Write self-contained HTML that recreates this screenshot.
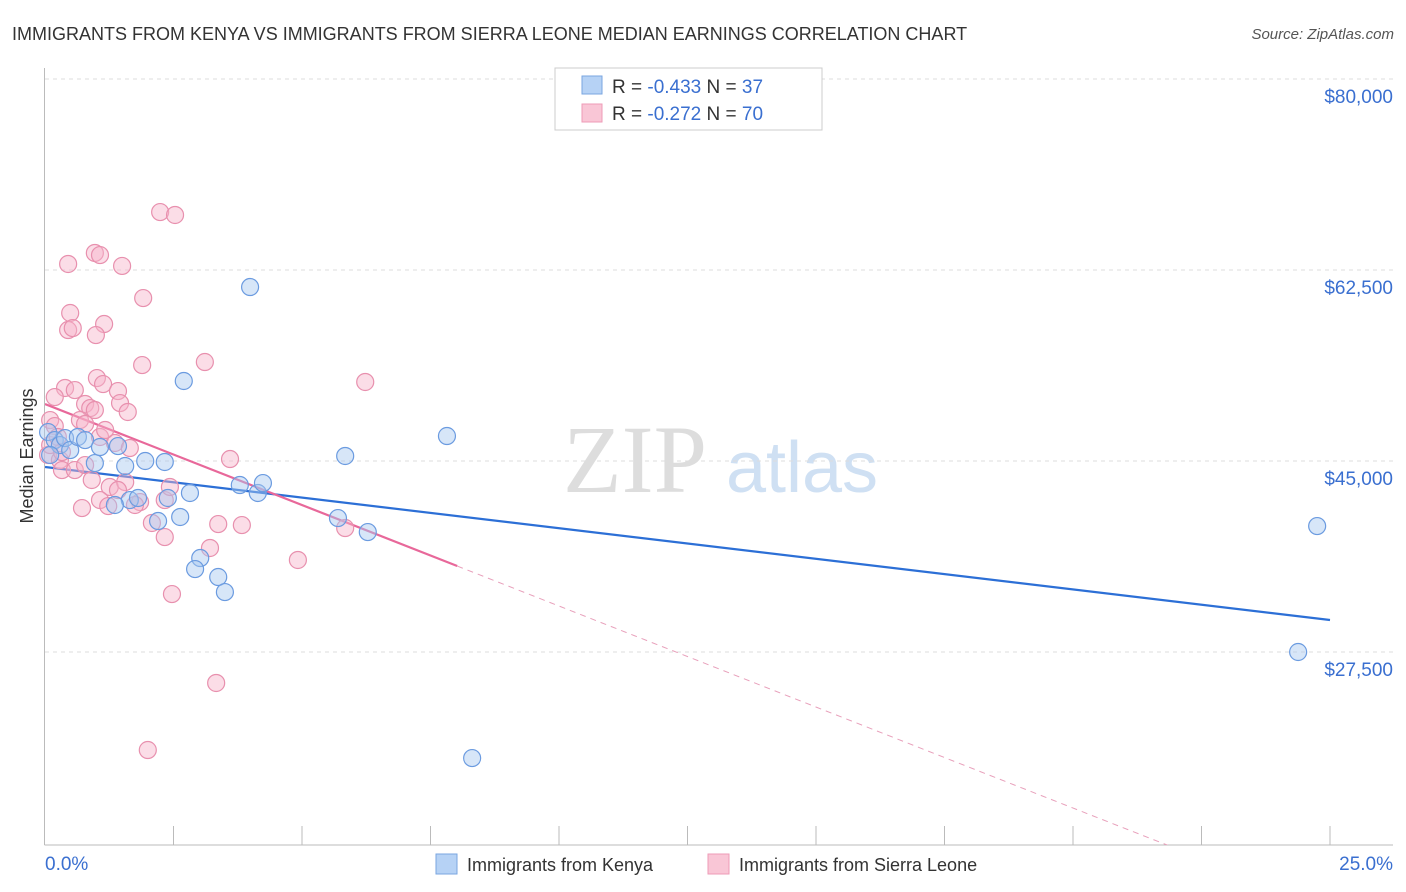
<!DOCTYPE html>
<html><head><meta charset="utf-8"><style>
body{margin:0;background:#fff;font-family:"Liberation Sans",sans-serif}
svg{display:block}
</style></head><body>
<svg id="chart" width="1406" height="892" xmlns="http://www.w3.org/2000/svg">
<text x="12" y="40" font-size="18" fill="#333">IMMIGRANTS FROM KENYA VS IMMIGRANTS FROM SIERRA LEONE MEDIAN EARNINGS CORRELATION CHART</text>
<text x="1394" y="39" font-size="15" fill="#555" text-anchor="end" font-style="italic">Source: ZipAtlas.com</text>
<text x="33" y="456" font-size="18" fill="#333" text-anchor="middle" transform="rotate(-90 33 456)">Median Earnings</text>
<g>
<text x="635" y="492" font-size="96" font-family="Liberation Serif,serif" fill="#ddd" text-anchor="middle">ZIP</text>
<text x="802" y="492" font-size="72" fill="#cfe0f3" text-anchor="middle">atlas</text>
</g>
<g id="grid"></g><g id="axes"></g>
<defs><clipPath id="plotclip"><rect x="45" y="60" width="1348" height="785"/></clipPath></defs>
<g id="trends" clip-path="url(#plotclip)"></g>
<g id="points"></g>
<g>
<rect x="555" y="68" width="267" height="62" fill="#fff" stroke="#ccc"/>
<rect x="582" y="76" width="20" height="18" fill="#b6d2f5" stroke="#7aa6e0"/>
<rect x="582" y="104" width="20" height="18" fill="#f9c6d6" stroke="#ee9bb7"/>
<text x="612" y="93" font-size="19" fill="#333">R = <tspan fill="#3a6fd0">-0.433</tspan>   N = <tspan fill="#3a6fd0">37</tspan></text>
<text x="612" y="120" font-size="19" fill="#333">R = <tspan fill="#3a6fd0">-0.272</tspan>   N = <tspan fill="#3a6fd0">70</tspan></text>
</g>
<g>
<rect x="436" y="854" width="21" height="20" fill="#b6d2f5" stroke="#7aa6e0"/>
<text x="467" y="871" font-size="18" fill="#333">Immigrants from Kenya</text>
<rect x="708" y="854" width="21" height="20" fill="#f9c6d6" stroke="#ee9bb7"/>
<text x="739" y="871" font-size="18" fill="#333">Immigrants from Sierra Leone</text>
</g>
</svg>
<script>
const yTicks=[80000,62500,45000,27500];
const yTickLabels=["$80,000","$62,500","$45,000","$27,500"];
const xTickLabels=["0.0%","25.0%"];
const kenyaX=[3.99,2.70,7.82,5.84,24.75,24.38,8.31,0.06,0.19,0.29,0.39,0.49,0.64,0.78,0.97,1.07,1.42,1.56,1.95,2.33,1.65,1.81,1.36,2.20,2.63,2.39,2.82,3.79,4.14,4.24,5.70,6.28,3.02,2.92,3.37,3.50,0.10];
const kenyaY=[60.94,52.33,47.29,45.46,39.04,27.50,17.78,47.65,46.92,46.46,47.10,46.00,47.20,46.92,44.81,46.28,46.37,44.54,45.00,44.91,41.42,41.61,40.97,39.50,39.87,41.61,42.07,42.80,42.07,42.98,39.77,38.49,36.11,35.10,34.37,32.99,45.55];
const sierraX=[2.24,2.53,0.97,1.07,1.50,0.45,1.91,0.49,1.15,0.45,0.54,0.99,1.89,3.11,6.23,1.01,1.13,0.39,0.58,0.19,1.42,0.78,0.88,0.97,1.46,1.61,0.10,0.68,0.78,0.19,1.07,1.36,1.65,0.06,0.29,0.33,0.58,0.78,0.91,1.26,1.56,1.42,1.85,2.33,2.43,3.60,1.07,1.23,1.75,0.72,2.08,2.33,3.37,3.83,5.84,3.21,4.92,2.47,3.33,2.00,0.10,0.25,1.17,0.33];
const sierraY=[67.81,67.54,64.06,63.87,62.87,63.05,59.93,58.56,57.55,57.00,57.18,56.54,53.79,54.07,52.24,52.60,52.05,51.69,51.50,50.86,51.41,50.22,49.85,49.67,50.31,49.49,48.75,48.75,48.39,48.20,47.20,46.65,46.19,45.55,45.09,44.17,44.17,44.63,43.26,42.62,43.07,42.34,41.24,41.42,42.62,45.18,41.42,40.87,40.97,40.69,39.32,38.03,39.22,39.13,38.86,37.03,35.93,32.81,24.66,18.52,46.46,47.20,47.84,45.82];
const kenyaTrend=[44.45,30.43];
const sierraTrend=[50.22,3.95];
const sierraSolidEnd=8.02;
const NS="http://www.w3.org/2000/svg";
const sx=v=>45+v/25*1285;
const sy=v=>79+(80-v)*191/17.5;
function mk(tag,attrs,parent){const e=document.createElementNS(NS,tag);for(const k in attrs)e.setAttribute(k,attrs[k]);parent.appendChild(e);return e;}
const grid=document.getElementById('grid'),axes=document.getElementById('axes'),trends=document.getElementById('trends'),pts=document.getElementById('points');
yTicks.forEach((t,i)=>{
 const l=mk('line',{x1:45,x2:1393,y1:sy(t/1000),y2:sy(t/1000),stroke:'#ddd','stroke-dasharray':'4 4'},grid);
 
 
 const tx=mk('text',{x:1393,y:sy(t/1000)+24,'font-size':19,fill:'#3a6fd0','text-anchor':'end'},axes);
 tx.textContent=yTickLabels[i];
 
 
});
let a=mk('line',{x1:44.5,x2:44.5,y1:68,y2:845,stroke:'#bbb'},axes);


a=mk('line',{x1:44.5,x2:1393,y1:845,y2:845,stroke:'#bbb'},axes);


for(let i=1;i<=10;i++){const t=mk('line',{x1:sx(i*2.5),x2:sx(i*2.5),y1:826,y2:845,stroke:'#bbb'},axes);
 
 }
let xl=mk('text',{x:45,y:870,'font-size':19,fill:'#3a6fd0'},axes);xl.textContent=xTickLabels[0];


xl=mk('text',{x:1393,y:870,'font-size':19,fill:'#3a6fd0','text-anchor':'end'},axes);xl.textContent=xTickLabels[1];


function drawPts(X,Y,fill,stroke,name){X.forEach((x,i)=>{const c=mk('circle',{cx:sx(x),cy:sy(Y[i]),r:8.5,fill:fill,'fill-opacity':0.45,stroke:stroke,'stroke-width':1.2},pts);
 
 });}
drawPts(sierraX,sierraY,'#f7b3c9','#e890ae','sierra-leone-point');
drawPts(kenyaX,kenyaY,'#a7c7f0','#6b9be0','kenya-point');
let tl=mk('line',{x1:sx(0),y1:sy(kenyaTrend[0]),x2:sx(25),y2:sy(kenyaTrend[1]),stroke:'#2c6fd6','stroke-width':2.2},trends);


const pv=x=>sierraTrend[0]+(sierraTrend[1]-sierraTrend[0])*x/25;
tl=mk('line',{x1:sx(0),y1:sy(pv(0)),x2:sx(sierraSolidEnd),y2:sy(pv(sierraSolidEnd)),stroke:'#e8689a','stroke-width':2.2},trends);


tl=mk('line',{x1:sx(sierraSolidEnd),y1:sy(pv(sierraSolidEnd)),x2:sx(25),y2:sy(pv(25)),stroke:'#e8a0bb','stroke-width':1,'stroke-dasharray':'6 5'},trends);


</script>
</body></html>
